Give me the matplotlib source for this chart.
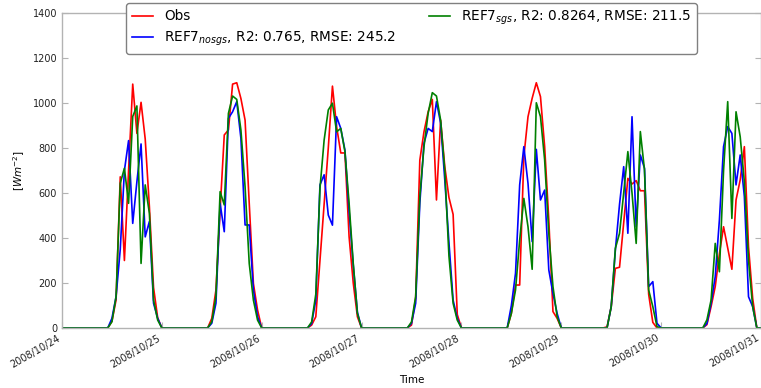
import matplotlib
matplotlib.use('Agg')
import matplotlib.pyplot as plt
import matplotlib.dates as mdates
import numpy as np
import pandas as pd

# hourly shortwave radiation [W m-2], 2008/10/24 - 2008/10/31
# only the daylight hours are listed, the rest of each day reads 0
days = ['2008/10/24', '2008/10/25', '2008/10/26', '2008/10/27',
        '2008/10/28', '2008/10/29', '2008/10/30']
first_hour = [11, 11, 11, 11, 11, 11, 10]

obs_day = [
    [0, 30, 125, 672, 300, 700, 1084, 865, 1003, 840, 540, 180, 45],
    [0, 43, 169, 524, 858, 880, 1084, 1090, 1020, 924, 554, 198, 80],
    [0, 13, 50, 300, 554, 800, 1075, 895, 778, 778, 406, 200, 50],
    [0, 13, 132, 746, 872, 961, 1016, 569, 924, 717, 580, 505, 60],
    [0, 65, 191, 191, 761, 939, 1021, 1090, 1028, 806, 480, 73, 43],
    [5, 95, 265, 270, 470, 665, 640, 655, 610, 610, 150, 25, 0],
    [0, 15, 95, 184, 330, 450, 355, 261, 569, 658, 806, 361, 132, 0],
]
nosgs_day = [
    [0, 43, 140, 350, 700, 833, 465, 650, 818, 405, 473, 110, 43],
    [0, 21, 110, 554, 428, 932, 961, 1006, 843, 458, 458, 169, 50],
    [0, 20, 124, 636, 681, 502, 457, 939, 887, 791, 520, 280, 70],
    [0, 21, 110, 554, 821, 887, 873, 1006, 911, 658, 380, 124, 43],
    [0, 100, 243, 636, 806, 643, 384, 794, 569, 613, 258, 154, 65],
    [0, 95, 347, 550, 717, 421, 939, 450, 769, 710, 184, 206, 21],
    [0, 20, 110, 228, 480, 806, 895, 865, 636, 769, 584, 139, 95, 0],
]
sgs_day = [
    [0, 28, 140, 643, 710, 554, 940, 987, 287, 636, 510, 124, 35],
    [0, 28, 140, 606, 547, 954, 1031, 1016, 880, 628, 287, 124, 35],
    [0, 27, 150, 620, 835, 969, 999, 872, 887, 784, 555, 287, 65],
    [0, 27, 140, 584, 806, 954, 1046, 1031, 924, 700, 320, 110, 35],
    [0, 65, 169, 391, 576, 450, 261, 1001, 939, 747, 421, 184, 50],
    [0, 95, 354, 421, 600, 784, 600, 376, 873, 702, 169, 95, 6],
    [0, 36, 124, 376, 250, 700, 1006, 487, 961, 850, 650, 300, 95, 0],
]

labels = ['Obs',
          'REF7$_{nosgs}$, R2: 0.765, RMSE: 245.2',
          'REF7$_{sgs}$, R2: 0.8264, RMSE: 211.5']
colors = ['r', 'b', 'g']

times = pd.date_range('2008-10-24', '2008-10-31', freq='h')

def hourly(day_vals):
    v = np.zeros(len(times))
    for k, vals in enumerate(day_vals):
        i0 = k*24 + first_hour[k]
        v[i0:i0+len(vals)] = vals
    return v

fig = plt.figure(figsize=(7.61, 3.88), dpi=100)
ax = fig.add_axes([62/761, 60/388, 699/761, 315/388])

for vals, c, lab in zip([obs_day, nosgs_day, sgs_day], colors, labels):
    ax.plot(times, hourly(vals), color=c, linewidth=1.2, label=lab)

ax.set_ylim(0, 1400)
ax.set_xlim(times[0], times[-1])
ax.set_yticks(np.arange(0, 1401, 200))
ax.xaxis.set_major_locator(mdates.DayLocator())
ax.xaxis.set_major_formatter(mdates.DateFormatter('%Y/%m/%d'))
for lab in ax.get_xticklabels():
    lab.set_rotation(30)
    lab.set_ha('right')

ax.tick_params(axis='both', labelsize=7, direction='in', color='0.7', length=4,
               colors='0.7', labelcolor='#222222')
ax.tick_params(axis='y', right=True)
for s in ax.spines.values():
    s.set_color('0.7')
    s.set_linewidth(1)

ax.set_xlabel('Time', fontsize=7.5)
ax.set_ylabel(r'[$W m^{-2}$]', fontsize=7.5)
ax.yaxis.set_label_coords(-0.05, 0.5)

leg = ax.legend(loc='upper center', bbox_to_anchor=(0.5, 1.032), ncol=2,
                fontsize=9.8, handlelength=1.6, columnspacing=2.4,
                borderaxespad=0, fancybox=True, framealpha=1)
leg.get_frame().set_edgecolor('0.5')

fig.savefig('out.png', dpi=100)
